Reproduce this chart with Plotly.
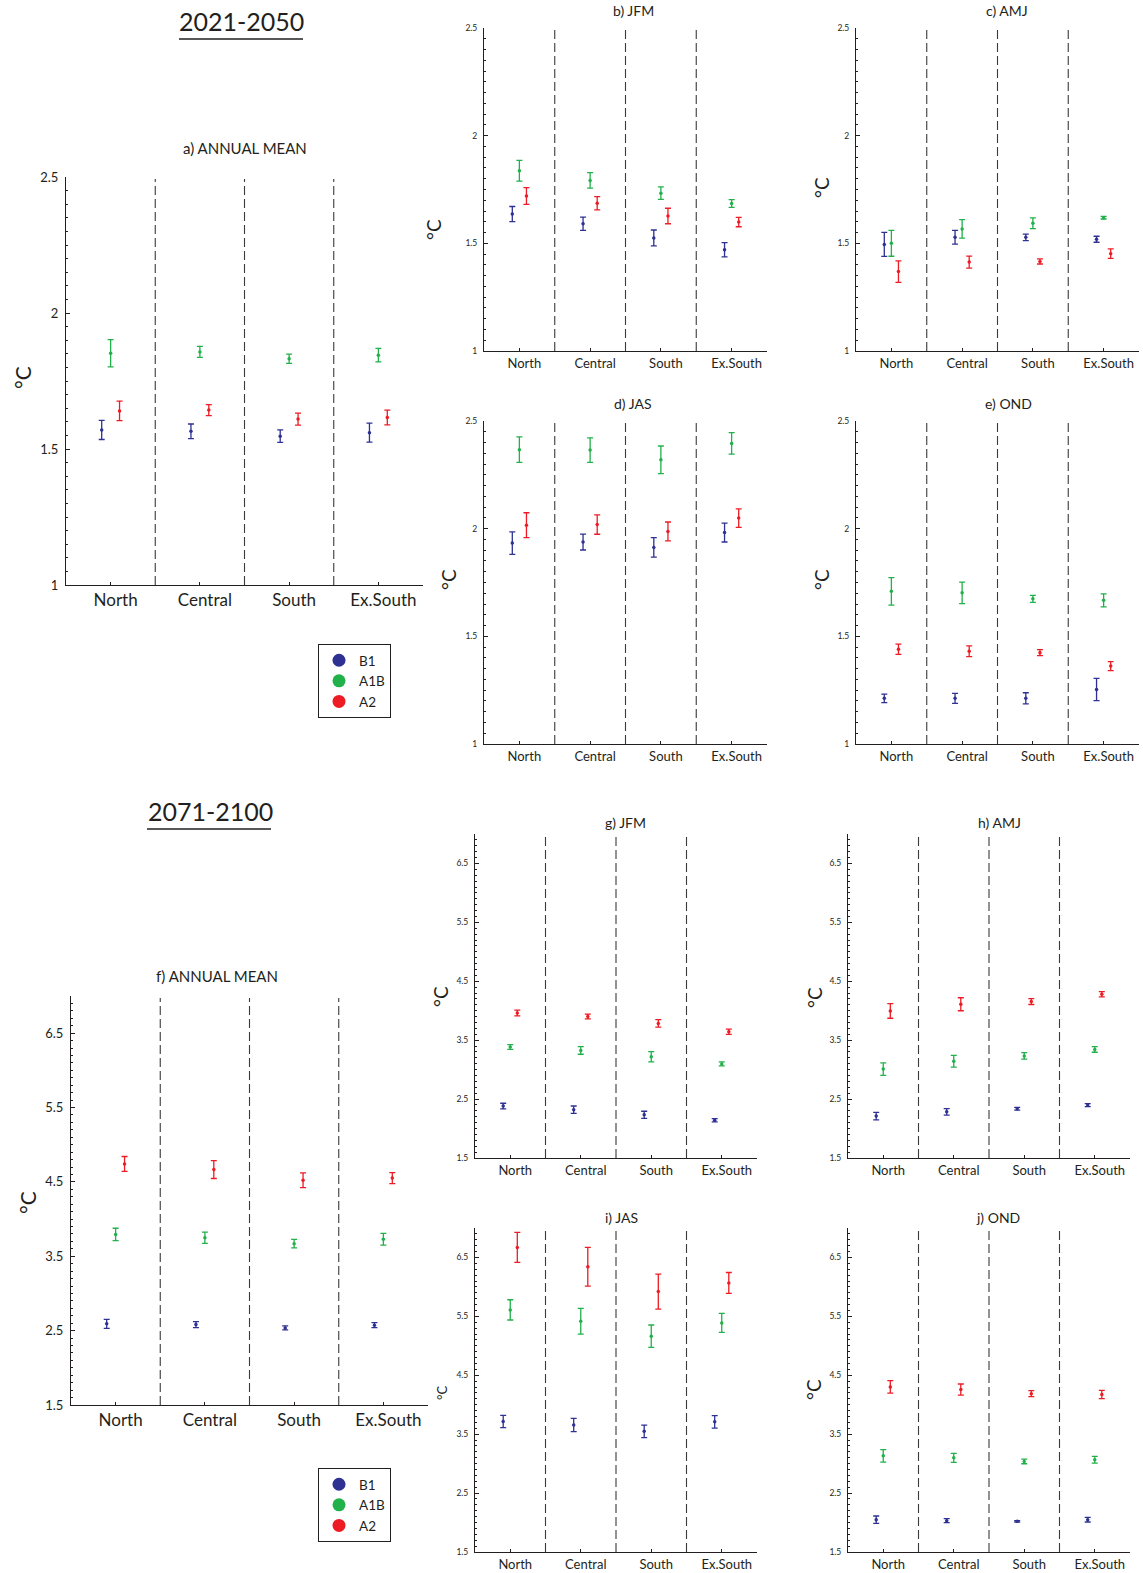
import plotly.graph_objects as go

# ---------------------------------------------------------------- data
regions = ["North", "Central", "South", "Ex.South"]
scenarios = ["B1", "A1B", "A2"]

# 2021-2050 -------------------------------------------------------------
# a) annual mean
a_B1 = [1.570, 1.565, 1.547, 1.560]
a_B1_err = [0.035, 0.027, 0.023, 0.035]
a_A1B = [1.852, 1.857, 1.832, 1.845]
a_A1B_err = [0.050, 0.020, 0.017, 0.025]
a_A2 = [1.640, 1.643, 1.610, 1.616]
a_A2_err = [0.036, 0.020, 0.022, 0.027]
# b) JFM
b_B1 = [1.636, 1.591, 1.525, 1.470]
b_B1_err = [0.035, 0.031, 0.037, 0.033]
b_A1B = [1.837, 1.792, 1.733, 1.685]
b_A1B_err = [0.048, 0.036, 0.029, 0.018]
b_A2 = [1.720, 1.686, 1.627, 1.599]
b_A2_err = [0.039, 0.031, 0.036, 0.022]
# c) AMJ
c_B1 = [1.495, 1.528, 1.528, 1.519]
c_B1_err = [0.056, 0.032, 0.015, 0.014]
c_A1B = [1.500, 1.567, 1.593, 1.619]
c_A1B_err = [0.060, 0.043, 0.025, 0.006]
c_A2 = [1.369, 1.413, 1.416, 1.452]
c_A2_err = [0.050, 0.028, 0.012, 0.022]
# d) JAS
d_B1 = [1.933, 1.938, 1.913, 1.982]
d_B1_err = [0.052, 0.037, 0.045, 0.044]
d_A1B = [2.367, 2.365, 2.320, 2.396]
d_A1B_err = [0.059, 0.057, 0.064, 0.050]
d_A2 = [2.016, 2.019, 1.987, 2.049]
d_A2_err = [0.058, 0.045, 0.044, 0.043]
# e) OND
e_B1 = [1.212, 1.212, 1.212, 1.253]
e_B1_err = [0.020, 0.023, 0.026, 0.052]
e_A1B = [1.709, 1.702, 1.674, 1.667]
e_A1B_err = [0.064, 0.050, 0.016, 0.030]
e_A2 = [1.440, 1.431, 1.424, 1.362]
e_A2_err = [0.024, 0.025, 0.014, 0.021]

# 2071-2100 -------------------------------------------------------------
# f) annual mean
f_B1 = [2.591, 2.581, 2.536, 2.574]
f_B1_err = [0.060, 0.040, 0.027, 0.034]
f_A1B = [3.794, 3.749, 3.670, 3.729]
f_A1B_err = [0.083, 0.075, 0.058, 0.080]
f_A2 = [4.742, 4.666, 4.522, 4.552]
f_A2_err = [0.100, 0.120, 0.100, 0.074]
# g) JFM
g_B1 = [2.381, 2.321, 2.234, 2.140]
g_B1_err = [0.048, 0.062, 0.060, 0.028]
g_A1B = [3.383, 3.326, 3.219, 3.097]
g_A1B_err = [0.040, 0.065, 0.088, 0.034]
g_A2 = [3.961, 3.901, 3.785, 3.642]
g_A2_err = [0.048, 0.040, 0.065, 0.045]
# h) AMJ
h_B1 = [2.211, 2.284, 2.336, 2.398]
h_B1_err = [0.065, 0.055, 0.025, 0.025]
h_A1B = [3.009, 3.142, 3.233, 3.343]
h_A1B_err = [0.105, 0.100, 0.055, 0.048]
h_A2 = [3.997, 4.110, 4.156, 4.280]
h_A2_err = [0.125, 0.110, 0.050, 0.045]
# i) JAS
i_B1 = [3.715, 3.655, 3.548, 3.709]
i_B1_err = [0.105, 0.113, 0.107, 0.105]
i_A1B = [5.610, 5.417, 5.163, 5.389]
i_A1B_err = [0.172, 0.218, 0.190, 0.162]
i_A2 = [6.670, 6.342, 5.920, 6.067]
i_A2_err = [0.255, 0.328, 0.297, 0.178]
# j) OND
j_B1 = [2.049, 2.032, 2.020, 2.049]
j_B1_err = [0.062, 0.034, 0.012, 0.040]
j_A1B = [3.132, 3.098, 3.038, 3.066]
j_A1B_err = [0.105, 0.077, 0.040, 0.057]
j_A2 = [4.303, 4.258, 4.187, 4.173]
j_A2_err = [0.105, 0.094, 0.051, 0.070]

# ---------------------------------------------------------------- style
W, H = 1143, 1573
INK = "#231f20"
FONT = "Lato, 'Open Sans', sans-serif"
colors = {"B1": "#2e3192", "A1B": "#22b04b", "A2": "#ed1c24"}
offsets = {"B1": -0.1, "A1B": 0.0, "A2": 0.1}

# panel: title, data, x-extent (px), y-extent (px, top/bottom), y range,
# major tick step, minor tick step, font sizes, title position, label position
panels = [
    dict(title="a) ANNUAL MEAN", data=(a_B1, a_B1_err, a_A1B, a_A1B_err, a_A2, a_A2_err),
         x=(66, 423), y=(177, 585), yr=(1, 2.5), major=0.5, minor=0.05,
         ytf=13, xtf=17, tpos=(245, 148, 15), lpos=(22, 378, 21)),
    dict(title="b) JFM", data=(b_B1, b_B1_err, b_A1B, b_A1B_err, b_A2, b_A2_err),
         x=(484, 767), y=(28, 351), yr=(1, 2.5), major=0.5, minor=0.05,
         ytf=8.5, xtf=13, tpos=(633, 11, 14), lpos=(434, 230, 19)),
    dict(title="c) AMJ", data=(c_B1, c_B1_err, c_A1B, c_A1B_err, c_A2, c_A2_err),
         x=(856, 1139), y=(28, 351), yr=(1, 2.5), major=0.5, minor=0.05,
         ytf=8.5, xtf=13, tpos=(1007, 11, 14), lpos=(821, 188, 19)),
    dict(title="d) JAS", data=(d_B1, d_B1_err, d_A1B, d_A1B_err, d_A2, d_A2_err),
         x=(484, 767), y=(421, 744), yr=(1, 2.5), major=0.5, minor=0.05,
         ytf=8.5, xtf=13, tpos=(633, 404, 14), lpos=(448, 580, 19)),
    dict(title="e) OND", data=(e_B1, e_B1_err, e_A1B, e_A1B_err, e_A2, e_A2_err),
         x=(856, 1139), y=(421, 744), yr=(1, 2.5), major=0.5, minor=0.05,
         ytf=8.5, xtf=13, tpos=(1008, 404, 14), lpos=(821, 580, 19)),
    dict(title="f) ANNUAL MEAN", data=(f_B1, f_B1_err, f_A1B, f_A1B_err, f_A2, f_A2_err),
         x=(71, 428), y=(996, 1405), yr=(1.5, 7.0), major=1.0, minor=0.1,
         ytf=13, xtf=17, tpos=(217, 976, 15), lpos=(27, 1203, 21)),
    dict(title="g) JFM", data=(g_B1, g_B1_err, g_A1B, g_A1B_err, g_A2, g_A2_err),
         x=(475, 757), y=(834, 1158), yr=(1.5, 7.0), major=1.0, minor=0.1,
         ytf=8.5, xtf=13, tpos=(625, 822, 14), lpos=(440, 997, 19)),
    dict(title="h) AMJ", data=(h_B1, h_B1_err, h_A1B, h_A1B_err, h_A2, h_A2_err),
         x=(848, 1130), y=(834, 1158), yr=(1.5, 7.0), major=1.0, minor=0.1,
         ytf=8.5, xtf=13, tpos=(999, 822, 14), lpos=(815, 998, 19)),
    dict(title="i) JAS", data=(i_B1, i_B1_err, i_A1B, i_A1B_err, i_A2, i_A2_err),
         x=(475, 757), y=(1228, 1552), yr=(1.5, 7.0), major=1.0, minor=0.1,
         ytf=8.5, xtf=13, tpos=(621, 1217, 14), lpos=(442, 1393, 13)),
    dict(title="j) OND", data=(j_B1, j_B1_err, j_A1B, j_A1B_err, j_A2, j_A2_err),
         x=(848, 1130), y=(1228, 1552), yr=(1.5, 7.0), major=1.0, minor=0.1,
         ytf=8.5, xtf=13, tpos=(998, 1217, 14), lpos=(813, 1390, 19)),
]

fig = go.Figure()
layout = dict(width=W, height=H, margin=dict(l=0, r=0, t=0, b=0), autosize=False,
              paper_bgcolor="white", plot_bgcolor="white",
              font=dict(family=FONT, color=INK), showlegend=True)
annotations = []
shapes = []

for n, p in enumerate(panels, start=1):
    sfx = "" if n == 1 else str(n)
    xa, ya = "x" + sfx, "y" + sfx
    vals = p["data"]
    for k, sc in enumerate(scenarios):
        mean, err = vals[2 * k], vals[2 * k + 1]
        fig.add_trace(go.Scatter(
            x=[i + 1 + offsets[sc] for i in range(len(regions))], y=mean,
            mode="markers", name=sc, showlegend=False, xaxis=xa, yaxis=ya,
            marker=dict(color=colors[sc], size=3.5),
            error_y=dict(type="data", array=err, color=colors[sc],
                         thickness=1.3, width=3),
            hovertemplate="%{y:.2f} °C<extra>" + sc + "</extra>"))

    x0, x1 = p["x"]
    yt, yb = p["y"]
    layout["xaxis" + sfx] = dict(
        domain=[x0 / W, x1 / W], anchor=ya, range=[0.5, 4.5],
        tickmode="array", tickvals=[1, 2, 3, 4], ticktext=regions,
        ticks="inside", ticklen=3, tickcolor=INK, ticklabelshift=5,
        showline=True, linecolor=INK, linewidth=1, showgrid=False,
        zeroline=False, automargin=False, fixedrange=True,
        tickfont=dict(size=p["xtf"], color=INK, family=FONT))
    layout["yaxis" + sfx] = dict(
        domain=[1 - yb / H, 1 - yt / H], anchor=xa, range=list(p["yr"]),
        tickmode="linear", tick0=p["yr"][0], dtick=p["major"],
        ticks="inside", ticklen=4, tickcolor=INK, ticklabelstandoff=4,
        minor=dict(tickmode="linear", tick0=p["yr"][0], dtick=p["minor"],
                   ticks="inside", ticklen=2, tickcolor=INK, showgrid=False),
        showline=True, linecolor=INK, linewidth=1, showgrid=False,
        zeroline=False, automargin=False, fixedrange=True,
        tickfont=dict(size=p["ytf"], color=INK, family=FONT))

    # dashed separators between regions
    for xs in (1.5, 2.5, 3.5):
        shapes.append(dict(type="line", xref=xa, yref=ya + " domain",
                           x0=xs, x1=xs, y0=0, y1=0.995,
                           line=dict(color="#3a3a3a", width=1.1, dash="9px,4px")))

    tx, ty, tf = p["tpos"]
    annotations.append(dict(text=p["title"], x=tx / W, y=1 - ty / H, xref="paper",
                            yref="paper", showarrow=False, xanchor="center",
                            yanchor="middle", font=dict(size=tf, color=INK, family=FONT)))
    lx, ly, lf = p["lpos"]
    annotations.append(dict(text="°C", x=lx / W, y=1 - ly / H, xref="paper",
                            yref="paper", showarrow=False, textangle=-90,
                            xanchor="center", yanchor="middle",
                            font=dict(size=lf, color=INK, family=FONT)))

# period headings, underlined
for text, cx, cy, ux0, ux1, uy in (("2021-2050", 241, 21, 179, 303, 39),
                                   ("2071-2100", 210, 811, 147, 271, 829)):
    annotations.append(dict(text=text, x=cx / W, y=1 - cy / H, xref="paper",
                            yref="paper", showarrow=False, xanchor="center",
                            yanchor="middle", font=dict(size=25, color=INK, family=FONT)))
    shapes.append(dict(type="line", xref="paper", yref="paper",
                       x0=ux0 / W, x1=ux1 / W, y0=1 - uy / H, y1=1 - uy / H,
                       line=dict(color=INK, width=1.3)))

# legend keys, one box per period
for lg in ("legend", "legend2"):
    for sc in scenarios:
        fig.add_trace(go.Scatter(x=[None], y=[None], mode="markers", name=sc,
                                 legend=lg, showlegend=True, hoverinfo="skip",
                                 marker=dict(color=colors[sc], size=13)))

legend_style = dict(xanchor="left", yanchor="top", bgcolor="white",
                    bordercolor=INK, borderwidth=1, itemsizing="trace",
                    tracegroupgap=0, itemwidth=30,
                    font=dict(size=13.5, color=INK, family=FONT))
layout["legend"] = dict(x=318 / W, y=1 - 644 / H, **legend_style)
layout["legend2"] = dict(x=318 / W, y=1 - 1468 / H, **legend_style)

layout["annotations"] = annotations
layout["shapes"] = shapes
fig.update_layout(**layout)

fig.write_html("out.html")
